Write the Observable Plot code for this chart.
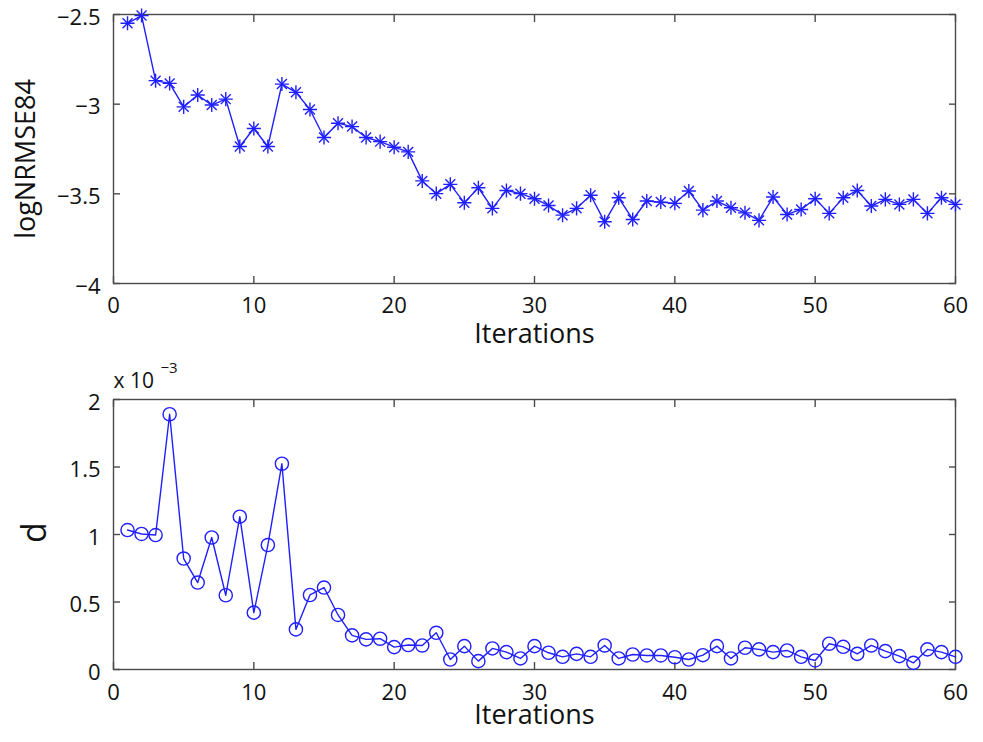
<!DOCTYPE html>
<html>
<head>
<meta charset="utf-8">
<script src="https://cdn.jsdelivr.net/npm/d3@7"></script>
<script src="https://cdn.jsdelivr.net/npm/@observablehq/plot@0.6"></script>
<style>
  html, body { margin: 0; padding: 0; background: #fff; }
  #chart svg { display: block; }
</style>
</head>
<body>
<div id="chart"></div>
<script>
// ---- data ----
const iterations = d3.range(1, 61);
const logNRMSE84 = [
  -2.549, -2.506, -2.869, -2.884, -3.015, -2.949, -3.005, -2.972, -3.236, -3.136,
  -3.236, -2.888, -2.934, -3.030, -3.186, -3.106, -3.125, -3.186, -3.209, -3.240,
  -3.266, -3.428, -3.499, -3.447, -3.550, -3.466, -3.581, -3.481, -3.499, -3.527,
  -3.565, -3.619, -3.581, -3.508, -3.656, -3.522, -3.643, -3.540, -3.546, -3.553,
  -3.484, -3.591, -3.540, -3.578, -3.606, -3.648, -3.518, -3.615, -3.587, -3.527,
  -3.609, -3.522, -3.481, -3.568, -3.531, -3.559, -3.531, -3.609, -3.522, -3.559
];
// d in units of 10^-3
const dValues = [
  1.033, 1.004, 0.996, 1.891, 0.822, 0.644, 0.978, 0.550, 1.132, 0.421,
  0.922, 1.524, 0.297, 0.552, 0.607, 0.404, 0.253, 0.223, 0.228, 0.166,
  0.181, 0.178, 0.272, 0.074, 0.173, 0.062, 0.156, 0.129, 0.082, 0.173,
  0.124, 0.094, 0.116, 0.094, 0.178, 0.082, 0.111, 0.104, 0.104, 0.091,
  0.074, 0.106, 0.173, 0.082, 0.161, 0.149, 0.129, 0.141, 0.094, 0.067,
  0.191, 0.168, 0.116, 0.178, 0.136, 0.099, 0.049, 0.149, 0.129, 0.094
];
const xTicks = [0, 10, 20, 30, 40, 50, 60];
const xTickLabels = ["0", "10", "20", "30", "40", "50", "60"];
const yTopTicks = [-4, -3.5, -3, -2.5];
const yTopTickLabels = ["\u22124", "\u22123.5", "\u22123", "\u22122.5"];
const yBotTicks = [0, 0.5, 1, 1.5, 2];
const yBotTickLabels = ["0", "0.5", "1", "1.5", "2"];
const xLabel = "Iterations";
const yTopLabel = "logNRMSE84";
const yBotLabel = "d";
const expBase = "x 10";
const expPower = "\u22123";

const topData = iterations.map((it, i) => ({it, v: logNRMSE84[i]}));
const botData = iterations.map((it, i) => ({it, v: dValues[i]}));

const BLUE = "#1f1fff";
const AX = "#4a4a4a";
const FONT = "'Open Sans', sans-serif";
const TICKFS = 22;
const LABFS = 27;

function fmt(ticks, labels) { return d => labels[ticks.indexOf(d)] ?? ""; }

function frameMarks(yTicks, yLabels, xPad) {
  return [
    Plot.frame({stroke: AX, strokeWidth: 1.4}),
    Plot.axisX(xTicks, {anchor: "bottom", tickSize: -7, fill: "none", stroke: AX, strokeWidth: 1.4, label: null}),
    Plot.axisX(xTicks, {anchor: "top", tickSize: -7, fill: "none", stroke: AX, strokeWidth: 1.4, label: null}),
    Plot.axisY(yTicks, {anchor: "left", tickSize: -7, fill: "none", stroke: AX, strokeWidth: 1.4, label: null}),
    Plot.axisY(yTicks, {anchor: "right", tickSize: -7, fill: "none", stroke: AX, strokeWidth: 1.4, label: null}),
    Plot.axisX(xTicks, {anchor: "bottom", tickSize: 0, tickPadding: xPad, fill: "#111", fontSize: TICKFS, fontFamily: FONT, tickFormat: fmt(xTicks, xTickLabels), label: null}),
    Plot.axisY(yTicks, {anchor: "left", tickSize: 0, tickPadding: 13, dy: 3, fill: "#111", fontSize: TICKFS, fontFamily: FONT, tickFormat: fmt(yTicks, yLabels), label: null})
  ];
}

const topPlot = Plot.plot({
  width: 983,
  height: 355,
  marginLeft: 113,
  marginRight: 28,
  marginTop: 14,
  marginBottom: 72,
  style: {fontFamily: FONT, background: "white"},
  x: {domain: [0, 60], axis: null},
  y: {domain: [-4, -2.5], axis: null},
  marks: [
    ...frameMarks(yTopTicks, yTopTickLabels, 14),
    Plot.line(topData, {x: "it", y: "v", stroke: BLUE, strokeWidth: 1.4}),
    Plot.dot(topData, {x: "it", y: "v", symbol: "plus", r: 4.6, stroke: BLUE, strokeWidth: 1.4}),
    Plot.dot(topData, {x: "it", y: "v", symbol: "times", r: 4.6, stroke: BLUE, strokeWidth: 1.4}),
    Plot.text([xLabel], {frameAnchor: "bottom", textAnchor: "middle", lineAnchor: "top", dy: 40, fontSize: LABFS, fontFamily: FONT, fill: "#111"}),
    Plot.text([yTopLabel], {frameAnchor: "left", textAnchor: "middle", lineAnchor: "middle", rotate: -90, dx: -87, dy: 10, fontSize: LABFS, fontFamily: FONT, fill: "#111"})
  ]
});

const botPlot = Plot.plot({
  width: 983,
  height: 387,
  marginLeft: 113,
  marginRight: 28,
  marginTop: 44,
  marginBottom: 73,
  style: {fontFamily: FONT, background: "white"},
  x: {domain: [0, 60], axis: null},
  y: {domain: [0, 2], axis: null},
  marks: [
    ...frameMarks(yBotTicks, yBotTickLabels, 15),
    Plot.line(botData, {x: "it", y: "v", stroke: BLUE, strokeWidth: 1.4}),
    Plot.dot(botData, {x: "it", y: "v", symbol: "circle", r: 6.6, fill: "none", stroke: BLUE, strokeWidth: 1.4}),
    Plot.text([xLabel], {frameAnchor: "bottom", textAnchor: "middle", lineAnchor: "top", dy: 35, fontSize: LABFS, fontFamily: FONT, fill: "#111"}),
    Plot.text([yBotLabel], {frameAnchor: "left", textAnchor: "middle", lineAnchor: "middle", rotate: -90, dx: -78, dy: -2, fontSize: 34, fontFamily: FONT, fill: "#111"}),
    Plot.text([expBase], {frameAnchor: "top-left", textAnchor: "start", lineAnchor: "bottom", dx: 0, dy: -12, fontSize: 21, fontFamily: FONT, fill: "#111"}),
    Plot.text([expPower], {frameAnchor: "top-left", textAnchor: "start", lineAnchor: "bottom", dx: 47, dy: -27, fontSize: 15, fontFamily: FONT, fill: "#111"})
  ]
});

document.getElementById("chart").append(topPlot, botPlot);
</script>
</body>
</html>
